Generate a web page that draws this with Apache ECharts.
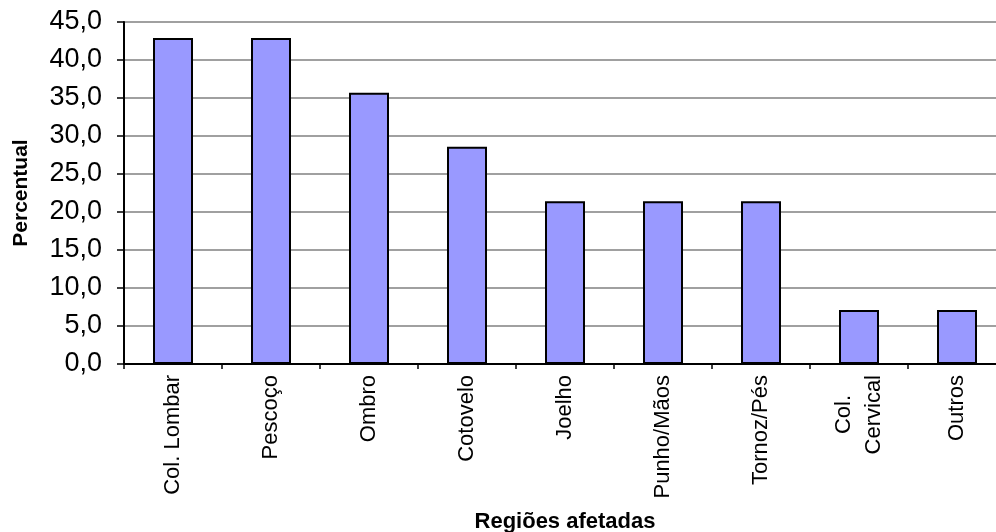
<!DOCTYPE html>
<html>
<head>
<meta charset="utf-8">
<script src="https://cdn.jsdelivr.net/npm/echarts@6/dist/echarts.min.js"></script>
<style>
  html, body { margin: 0; padding: 0; background: #fff; }
  #chart { width: 996px; height: 532px; }
</style>
</head>
<body>
<div id="chart"></div>
<script>
// Regiões do corpo afetadas e percentual de ocorrência
const categories = ['Col. Lombar', 'Pescoço', 'Ombro', 'Cotovelo', 'Joelho', 'Punho/Mãos', 'Tornoz/Pés', 'Col.\nCervical', 'Outros'];
const values = [42.9, 42.9, 35.7, 28.6, 21.4, 21.4, 21.4, 7.1, 7.1];
const yTicks = { min: 0, max: 45, interval: 5 };

// Two-line label: the short first line is padded so both lines share a centre
function categoryLabel(name) {
  if (name.indexOf('\n') < 0) return name;
  const parts = name.split('\n');
  return '{s|' + parts[0] + '}\n{n|' + parts[1] + '}';
}

const chart = echarts.init(document.getElementById('chart'));
chart.setOption({
  animation: false,
  textStyle: { fontFamily: 'Liberation Sans, Arial, sans-serif' },
  grid: { left: 124, top: 22, width: 882, height: 342, containLabel: false, outerBoundsMode: 'none' },
  xAxis: {
    type: 'category',
    data: categories,
    name: 'Regiões afetadas',
    nameLocation: 'middle',
    nameGap: 147,
    nameTextStyle: { fontSize: 22, fontWeight: 'bold', color: '#000' },
    axisLine: { lineStyle: { color: '#000', width: 2 } },
    axisTick: { show: true, length: 5, lineStyle: { color: '#000', width: 1.5 } },
    axisLabel: {
      rotate: 90, fontSize: 22, color: '#000', margin: 11, lineHeight: 30,
      align: 'right', verticalAlign: 'middle',
      formatter: categoryLabel,
      rich: {
        s: { fontSize: 22, lineHeight: 30, color: '#000', padding: [0, 20, 0, 0] },
        n: { fontSize: 22, lineHeight: 30, color: '#000' }
      }
    }
  },
  yAxis: {
    type: 'value',
    min: yTicks.min, max: yTicks.max, interval: yTicks.interval,
    name: 'Percentual',
    nameLocation: 'middle',
    nameGap: 92,
    nameTextStyle: { fontSize: 21, fontWeight: 'bold', color: '#000' },
    axisLine: { show: true, lineStyle: { color: '#000', width: 2 } },
    axisTick: { show: true, length: 7, lineStyle: { color: '#000', width: 1.5 } },
    axisLabel: { fontSize: 27, color: '#000', margin: 22, formatter: v => v.toFixed(1).replace('.', ',') },
    splitLine: { show: true, lineStyle: { color: '#808080', width: 1.5 } }
  },
  series: [{
    type: 'bar',
    data: values,
    barWidth: 40,
    itemStyle: { color: '#9999ff', borderColor: '#000', borderWidth: 2 }
  }]
});
</script>
</body>
</html>
